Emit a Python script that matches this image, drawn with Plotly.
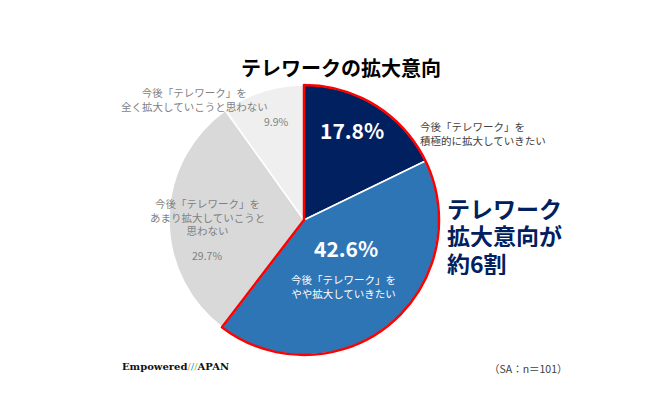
import plotly.graph_objects as go

# page body has an 8px default margin, so the figure is drawn 8px smaller and offset
OFF = 8
W, H = 650 - OFF, 398 - OFF

categories = [
    "今後「テレワーク」を積極的に拡大していきたい",
    "今後「テレワーク」をやや拡大していきたい",
    "今後「テレワーク」をあまり拡大していこうと思わない",
    "今後「テレワーク」を全く拡大していこうと思わない",
]
values = [17.8, 42.6, 29.7, 9.9]
colors = ["#002060", "#2e75b6", "#d9d9d9", "#efefef"]
title_text = "テレワークの拡大意向"
highlight_text = ["テレワーク", "拡大意向が", "約6割"]
note_text = "（SA：n＝101）"

JP = "Noto Sans CJK JP"


def px(rx):
    return (rx - OFF) / W


def py(ry):
    return 1 - (ry - OFF) / H


cx, cy, r = 304, 220, 135
dom_x = [px(cx - r), px(cx + r)]
dom_y = [py(cy + r), py(cy - r)]

fig = go.Figure()
fig.add_trace(go.Pie(
    labels=categories, values=values, sort=False, direction="clockwise",
    rotation=0, textinfo="none", hoverinfo="label+percent",
    marker=dict(colors=colors, line=dict(color="white", width=1.5)),
    domain=dict(x=dom_x, y=dom_y), showlegend=False,
))
pos_sum = values[0] + values[1]
neg_sum = values[2] + values[3]
fig.add_trace(go.Pie(
    labels=["拡大意向あり", "拡大意向なし"], values=[pos_sum, neg_sum], sort=False,
    direction="clockwise", rotation=0, textinfo="none", hoverinfo="skip",
    marker=dict(colors=["rgba(0,0,0,0)", "rgba(0,0,0,0)"],
                line=dict(color=["#ff0000", "rgba(0,0,0,0)"], width=[2.5, 0])),
    domain=dict(x=dom_x, y=dom_y), showlegend=False,
))


def ann(x, y, text, size, color, bold=False, align="center", xanchor="center",
        family=JP, height=None):
    t = f"<b>{text}</b>" if bold else text
    fig.add_annotation(x=px(x), y=py(y), xref="paper", yref="paper", text=t,
                       showarrow=False, xanchor=xanchor, yanchor="middle", align=align,
                       height=height, borderpad=0,
                       font=dict(size=size, color=color, family=family))


gray = "#7f7f7f"
ann(341, 67, title_text, 20, "#000000", bold=True)
ann(352, 130, f"{values[0]}%", 21, "white", bold=True)
ann(419, 134, "今後「テレワーク」を<br>積極的に拡大していきたい", 10.5, "#404040", align="left", xanchor="left")
ann(346, 248, f"{values[1]}%", 21, "white", bold=True)
ann(344, 286, "今後「テレワーク」を<br>やや拡大していきたい", 10.5, "white")
ann(207, 217, "今後「テレワーク」を<br>あまり拡大していこうと<br>思わない", 10.5, gray)
ann(207, 256, f"{values[2]}%", 10.5, gray)
ann(195, 99, "今後「テレワーク」を<br>全く拡大していこうと思わない", 10.5, gray)
ann(276, 121, f"{values[3]}%", 10.5, gray)
for line, yy in zip(highlight_text, [207, 234.5, 262]):
    ann(446, yy, line, 23, "#002060", bold=True, align="left", xanchor="left", height=25)
ann(528, 368, note_text, 10.5, "#404040")
fig.add_annotation(x=px(120), y=py(366), xref="paper", yref="paper", showarrow=False,
                   xanchor="left", yanchor="middle",
                   text="<b>Empowered</b><span style='color:#f39800'>/</span><span style='color:#00a0e9'>/</span><span style='color:#8fc31f'>/</span><b>APAN</b>",
                   font=dict(size=10, color="#111111", family="DejaVu Serif"))

fig.update_layout(width=W, height=H, margin=dict(l=0, r=0, t=0, b=0),
                  paper_bgcolor="white", plot_bgcolor="white")
fig.write_html("out.html")
